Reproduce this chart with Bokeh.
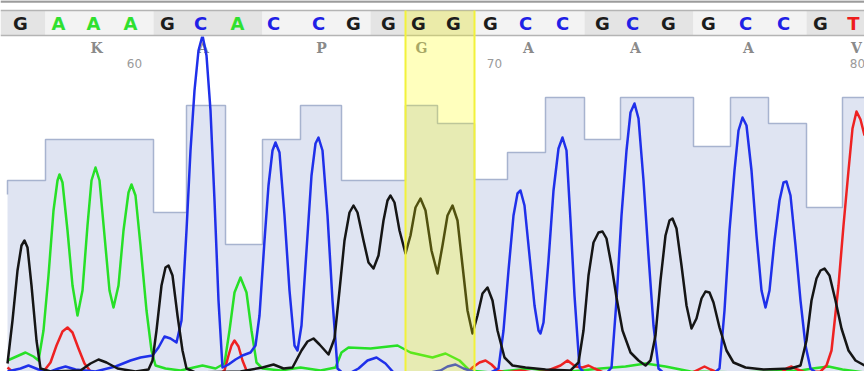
from bokeh.plotting import figure
from bokeh.models import Range1d
from bokeh.core.properties import value
from bokeh.embed import file_html
from bokeh.resources import INLINE

# ---------------- data ----------------
BASES = list("GAAAGCACCGGGGGCCGCGGCCGT")
BASE_POS = [20, 58, 93, 130, 167, 200, 237, 273, 318, 353, 388, 418,
            453, 490, 525, 562, 602, 632, 668, 708, 745, 783, 820, 853]
QUAL_EDGES = [7, 45, 76, 112, 153, 186, 225, 262, 300, 341, 370, 405, 437,
              474, 507, 545, 584, 620, 652, 693, 730, 768, 806, 842, 864]
QUALITY = [191, 232, 232, 232, 159, 266, 127, 232, 266, 191, 191, 266,
           248, 192, 219, 274, 232, 274, 274, 225, 274, 248, 164, 274]
AMINO = ["K", "A", "P", "G", "A", "A", "A", "V"]
AMINO_BASE_INDEX = [2, 5, 8, 11, 14, 17, 20, 23]
FIRST_BASE_NUMBER = 57
HIGHLIGHT_BASES = [11, 12]

G_X = [7, 12, 17, 21, 24, 27, 31, 36, 40, 50, 80, 90, 98, 106, 117, 135, 148, 152, 156, 161,
       165, 168, 172, 177, 182, 186, 195, 240, 262, 273, 283, 292, 301, 307, 313, 319, 328, 334,
       339, 344, 349, 353, 357, 363, 368, 373, 378, 383, 387, 390, 394, 399, 405, 410, 415, 420,
       425, 431, 437, 442, 447, 452, 457, 462, 467, 472, 477, 482, 487, 492, 497, 504, 512, 525,
       545, 570, 578, 583, 588, 593, 598, 602, 606, 611, 616, 622, 630, 638, 645, 650, 655, 660,
       665, 669, 672, 676, 681, 686, 691, 696, 701, 705, 709, 713, 719, 726, 733, 745, 763, 790,
       800, 806, 811, 816, 820, 824, 829, 835, 841, 848, 855, 864]
G_Y = [8, 51, 101, 126, 131, 124, 86, 31, 3, 0, 1, 8, 12, 9, 3, 0, 2, 11, 41, 86,
       104, 106, 96, 56, 21, 3, -1, 0, 4, 7, 3, 4, 21, 30, 33, 27, 17, 33,
       81, 131, 159, 166, 159, 131, 109, 103, 116, 151, 171, 176, 169, 141, 118, 136, 164, 173,
       161, 121, 98, 126, 156, 166, 151, 106, 61, 38, 56, 78, 84, 71, 41, 14, 6, 4,
       2, 1, 9, 41, 96, 129, 139, 140, 133, 106, 74, 41, 19, 11, 6, 11, 36, 91,
       136, 151, 153, 143, 106, 66, 43, 53, 73, 80, 79, 69, 44, 21, 9, 4, 2, 3,
       6, 31, 71, 93, 101, 103, 96, 71, 43, 21, 11, 6]

A_X = [7, 16, 25, 33, 38, 43, 48, 53, 57, 59, 62, 67, 72, 77, 82, 87, 91, 95, 99, 104,
       109, 113, 118, 123, 128, 131, 135, 140, 146, 151, 155, 165, 180, 202, 215, 224, 229, 234,
       240, 246, 251, 256, 262, 280, 300, 320, 335, 341, 348, 370, 397, 410, 432, 445, 459, 469,
       490, 530, 560, 600, 625, 645, 665, 690, 740, 800, 812, 828, 842, 864]
A_Y = [11, 15, 19, 15, 11, 41, 96, 161, 191, 197, 189, 141, 86, 56, 81, 146, 191, 204, 191, 136,
       81, 64, 86, 141, 179, 187, 176, 126, 61, 21, 6, 3, 1, 6, 3, 8, 41, 79,
       94, 79, 41, 9, 3, 1, 4, 1, 4, 19, 24, 23, 26, 19, 14, 18, 11, 1,
       -1, 3, -1, 3, 5, 8, 5, 0, -1, 1, 3, 5, 2, -1]

C_X = [7, 20, 28, 38, 50, 58, 65, 75, 95, 115, 130, 140, 152, 158, 164, 170, 176, 181, 186, 190,
       194, 198, 202, 206, 210, 214, 218, 222, 228, 235, 242, 250, 255, 259, 264, 268, 272, 275,
       279, 284, 289, 294, 297, 301, 306, 311, 315, 318, 322, 327, 332, 337, 345, 358, 367, 376,
       385, 393, 420, 440, 447, 455, 463, 475, 490, 498, 503, 508, 513, 517, 520, 524, 529, 534,
       538, 540, 543, 548, 553, 558, 562, 566, 570, 574, 579, 585, 605, 611, 616, 621, 626, 630,
       634, 638, 643, 648, 653, 658, 665, 712, 719, 724, 729, 734, 738, 742, 746, 751, 756, 761,
       765, 769, 774, 779, 783, 786, 790, 795, 800, 805, 810, 818, 864]
C_Y = [0, 3, 6, 2, 0, 3, 5, 2, 0, 5, 11, 14, 16, 24, 35, 33, 29, 51, 141, 221,
       281, 321, 336, 316, 261, 171, 71, 4, 7, 12, 16, 19, 26, 56, 131, 186, 221, 229,
       219, 156, 81, 26, 21, 46, 121, 196, 228, 234, 221, 156, 71, 3, -4, 3, 11, 14,
       8, -1, -3, 1, 5, 7, 3, -1, -1, 3, 41, 101, 156, 178, 181, 166, 116, 66,
       41, 38, 49, 111, 181, 223, 234, 221, 151, 76, 4, -3, -3, 4, 71, 156, 221, 259,
       268, 253, 191, 116, 46, 3, -3, -3, 3, 61, 141, 201, 241, 254, 246, 201, 136, 81,
       64, 81, 131, 171, 189, 190, 176, 126, 71, 26, 3, -3, -3]

T_X = [7, 13, 30, 43, 50, 56, 62, 67, 72, 78, 84, 90, 100, 218, 224, 228, 231, 234, 238, 242,
       246, 255, 465, 472, 479, 485, 491, 497, 505, 520, 532, 545, 560, 567, 575, 582, 588, 594,
       605, 690, 698, 704, 710, 720, 780, 786, 791, 797, 805, 820, 826, 831, 838, 843, 848, 852,
       856, 860, 864]
T_Y = [4, -1, -3, 0, 9, 26, 40, 44, 39, 23, 8, 0, -3, -3, 1, 16, 26, 31, 25, 11,
       1, -3, -3, 4, 9, 11, 7, 1, -1, 1, -1, 0, 6, 11, 5, 4, 6, 3,
       -2, -2, 2, 5, 2, -2, -2, 3, 5, 2, -1, 0, 6, 21, 86, 146, 201, 243,
       260, 252, 236]

# ---------------- layout / style ----------------
W, H = 864, 371


def ypix(py):
    return H - py


QUAL_FILL = "#dfe4f2"
QUAL_LINE = "#a7b3cf"
TRACE_COLORS = {"G": "#151515", "A": "#27e027", "C": "#1f30ea", "T": "#ee2222"}
LETTER_COLORS = {"G": "#1c1c1c", "A": "#2fe02f", "C": "#2020e6", "T": "#ee1c1c"}

p = figure(width=W, height=H, output_backend="svg", toolbar_location=None,
           x_range=Range1d(0, W), y_range=Range1d(0, H), min_border=0,
           background_fill_color="white", border_fill_color="white")
p.axis.visible = False
p.grid.visible = False
p.outline_line_color = None

# quality bars (one step-shaped area)
sx, sy = [], []
for i, q in enumerate(QUALITY):
    sx += [QUAL_EDGES[i], QUAL_EDGES[i + 1]]
    sy += [q, q]
p.patch([QUAL_EDGES[0]] + sx + [QUAL_EDGES[-1]], [-10] + sy + [-10],
        fill_color=QUAL_FILL, line_color=None)
p.line([QUAL_EDGES[0]] + sx, [sy[0] - 14] + sy, line_color=QUAL_LINE, line_width=1.5)

# amino acids and numbering
aa_x = [BASE_POS[i] for i in AMINO_BASE_INDEX]
p.text(x=aa_x, y=[ypix(47)] * len(aa_x), text=AMINO, x_offset=3,
       text_align="center", text_baseline="middle", text_color="#8a8a8a",
       text_font=value("DejaVu Serif"), text_font_style="bold", text_font_size="14px")
num_x, num_t = [], []
for i, bx in enumerate(BASE_POS):
    n = FIRST_BASE_NUMBER + i
    if n % 10 == 0:
        num_x.append(bx)
        num_t.append(str(n))
p.text(x=num_x, y=[ypix(63)] * len(num_x), text=num_t, x_offset=4,
       text_align="center", text_baseline="middle", text_color="#9a9a9a",
       text_font=value("DejaVu Sans"), text_font_size="12px")

# traces
for xs, ys, b in [(A_X, A_Y, "A"), (T_X, T_Y, "T"), (C_X, C_Y, "C"), (G_X, G_Y, "G")]:
    p.line(xs, ys, line_color=TRACE_COLORS[b], line_width=2.5, line_join="round")

# header band
p.quad(left=0, right=W, bottom=ypix(36), top=H + 5, fill_color="white", line_color=None)
codon_edges = [0, QUAL_EDGES[1]]
k = 1
while k + 3 < len(QUAL_EDGES):
    codon_edges.append(QUAL_EDGES[k + 3])
    k += 3
codon_edges.append(W)
cl = codon_edges[:-1]
cr = codon_edges[1:]
cc = ["#e4e4e4" if j % 2 == 0 else "#f3f3f3" for j in range(len(cl))]
p.quad(left=cl, right=cr, bottom=ypix(35), top=ypix(10), fill_color=cc, line_color=None)
p.segment(x0=[0, 0], x1=[W, W], y0=[ypix(10), ypix(35)], y1=[ypix(10), ypix(35)],
          line_color="#b4b4b4", line_width=1.5)
p.segment(x0=[0], x1=[W], y0=[ypix(1)], y1=[ypix(1)], line_color="#9c9c9c", line_width=2.5)

# highlight
hl = QUAL_EDGES[HIGHLIGHT_BASES[0]]
hr = QUAL_EDGES[HIGHLIGHT_BASES[-1] + 1]
p.quad(left=hl, right=hr, bottom=-10, top=ypix(10), fill_color="#ffff00",
       fill_alpha=0.26, line_color=None)
p.segment(x0=[hl, hr], x1=[hl, hr], y0=[-10, -10], y1=[ypix(10), ypix(10)],
          line_color="#f2f23a", line_width=2)

# base letters
p.text(x=BASE_POS, y=[ypix(23)] * len(BASES), text=BASES,
       text_color=[LETTER_COLORS[b] for b in BASES],
       text_align="center", text_baseline="middle",
       text_font=value("DejaVu Sans"), text_font_style="bold", text_font_size="18px")

open("out.html", "w").write(file_html(p, INLINE))
